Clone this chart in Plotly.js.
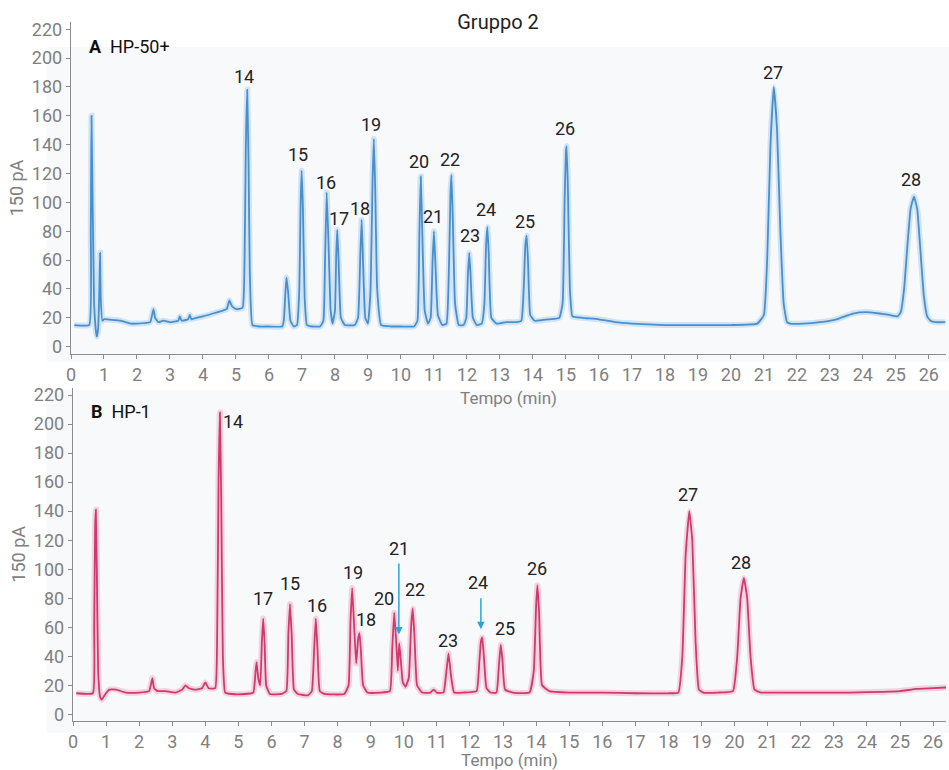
<!DOCTYPE html>
<html>
<head>
<meta charset="utf-8">
<script src="https://cdn.plot.ly/plotly-3.0.1.min.js"></script>
<style>html,body{margin:0;padding:0;background:#fff;}#chart{width:949px;height:770px;}</style>
</head>
<body>
<div id="chart"></div>
<script>
// ---- Panel A: HP-50+ (time in min, signal in pA) ----
const timeA = [0.1,0.55,0.6,0.62,0.65,0.7,0.75,0.78,0.82,0.86,0.88,0.9,0.95,1.0,1.5,1.8,2.0,2.4,2.45,2.5,2.55,2.65,2.8,3.0,3.25,3.3,3.35,3.55,3.6,3.65,3.8,4.0,4.3,4.6,4.72,4.8,4.88,5.0,5.2,5.26,5.3,5.34,5.38,5.42,5.5,5.7,6.0,6.4,6.45,6.5,6.53,6.58,6.65,6.75,6.85,6.92,6.96,6.99,7.03,7.08,7.15,7.3,7.55,7.65,7.7,7.75,7.8,7.87,7.93,8.0,8.04,8.07,8.11,8.18,8.3,8.6,8.7,8.77,8.81,8.85,8.92,9.0,9.08,9.14,9.18,9.22,9.28,9.4,9.7,10.0,10.4,10.5,10.56,10.6,10.64,10.72,10.82,10.9,10.96,11.0,11.04,11.12,11.25,11.38,11.46,11.5,11.53,11.57,11.64,11.75,11.9,11.98,12.03,12.07,12.11,12.18,12.3,12.45,12.53,12.58,12.62,12.66,12.74,12.9,13.2,13.5,13.65,13.72,13.77,13.81,13.85,13.92,14.05,14.5,14.8,14.9,14.96,15.0,15.02,15.06,15.12,15.2,15.5,16.0,16.5,17.0,18.0,19.0,20.0,20.8,21.0,21.1,21.2,21.3,21.4,21.5,21.6,21.7,21.8,22.2,22.7,23.2,23.7,24.1,24.5,24.8,25.05,25.15,25.25,25.35,25.45,25.55,25.65,25.75,25.85,25.95,26.05,26.2,26.5];
const signalA = [15,15,80,160,110,30,12,7,12,40,65,35,18,19,18,16,16,17,21,26,20,17,18,17,18,21,18,19,22,19,20,21,23,25,26,32,28,26,27,60,140,178,130,50,15,14,14,14,18,38,48,38,18,14,15,40,100,122,95,35,15,14,14,18,60,107,75,25,16,25,65,81,60,20,15,15,20,65,88,60,20,16,40,115,144,110,40,15,14,14,14,18,80,118,85,25,16,20,60,80,60,22,15,16,60,105,119,90,30,15,15,20,50,65,50,20,15,16,30,70,83,65,20,16,17,17,18,40,70,77,60,22,18,19,20,30,100,135,139,110,40,21,20,19,17,16,15,15,15,16,22,60,140,180,150,80,30,17,16,16,17,19,23,24,23,22,21,24,40,70,96,104,95,65,35,21,18,17,17];
const labelsA = ["14","15","16","17","18","19","20","21","22","23","24","25","26","27","28"];
const labelTimeA = [5.24,6.89,7.72,8.12,8.76,9.08,10.55,10.98,11.5,12.09,12.58,13.76,14.97,21.28,25.45];
const labelSignalA = [187,133,114,89,96,154,128,90,130,77,95,87,151,190,116];

// ---- Panel B: HP-1 ----
const timeB = [0.1,0.6,0.64,0.67,0.69,0.72,0.76,0.82,0.87,0.95,1.1,1.3,1.6,2.0,2.3,2.35,2.4,2.45,2.55,2.8,3.1,3.3,3.4,3.5,3.7,3.9,4.0,4.1,4.3,4.36,4.4,4.44,4.48,4.53,4.6,4.8,5.2,5.45,5.52,5.55,5.6,5.66,5.71,5.75,5.79,5.84,5.95,6.3,6.45,6.51,6.56,6.61,6.68,6.8,7.1,7.22,7.29,7.34,7.39,7.46,7.6,8.2,8.33,8.39,8.44,8.5,8.56,8.62,8.66,8.7,8.77,8.9,9.3,9.58,9.65,9.71,9.77,9.82,9.86,9.9,9.97,10.05,10.15,10.22,10.27,10.32,10.4,10.55,10.8,10.9,11.0,11.2,11.28,11.35,11.42,11.52,11.8,12.2,12.28,12.33,12.37,12.42,12.5,12.62,12.8,12.88,12.93,12.98,13.06,13.3,13.8,13.93,14.0,14.04,14.09,14.18,14.4,15.0,16.0,17.0,18.0,18.3,18.42,18.52,18.63,18.72,18.82,18.92,19.05,19.5,19.95,20.08,20.18,20.28,20.38,20.48,20.6,20.8,21.5,22.5,23.5,24.5,25.0,25.5,26.0,26.4];
const signalB = [14.5,14.5,60,130,141,100,30,12,10,13,17,17,15,15,16,20,25,18,16,16,15,17,20,18,17,18,22,18,18,60,160,208,150,40,15,14,14,15,30,36,25,20,50,66,50,20,14,14,16,55,76,55,17,14,13,16,45,66,45,16,14,14,20,65,87,60,35,52,56,45,20,15,15,16,45,70,50,30,49,40,22,19,25,60,73,55,20,15,15,17,15,15,28,42,28,15,15,16,35,50,53,40,18,15,15,35,48,38,17,15,15,30,75,89,70,20,16,15,15,14.5,14.5,15,40,110,140,120,50,17,15,15,16,40,80,94,80,40,17,15,15,15,15,15.5,16,17.5,18,18.5];
const labelsB = ["14","17","15","16","19","18","20","21","22","23","24","25","26","27","28"];
const labelTimeB = [4.84,5.75,6.56,7.37,8.47,8.87,9.41,9.86,10.34,11.35,12.23,13.06,14.04,18.58,20.18];
const labelSignalB = [201.6,80,90,75,98,65,80,114,86,51,91,59,100.6,151.6,104.5];
// marker arrows (peaks 21 and 24 in panel B)
const arrowTime = [9.85, 12.33];
const arrowFrom = [105, 81];
const arrowTo = [55, 58.6];

const FONT = 'Roboto, "Noto Sans", sans-serif';
const LINE_SHAPE = {shape: 'spline', smoothing: 0.35};
const traces = [
  {x: timeA, y: signalA, xaxis: 'x', yaxis: 'y', mode: 'lines', line: Object.assign({color: 'rgba(120,180,235,0.30)', width: 6}, LINE_SHAPE), hoverinfo: 'skip', showlegend: false},
  {x: timeA, y: signalA, xaxis: 'x', yaxis: 'y', mode: 'lines', line: Object.assign({color: '#4a8fcc', width: 1.8}, LINE_SHAPE), name: 'HP-50+', showlegend: false},
  {x: timeB, y: signalB, xaxis: 'x2', yaxis: 'y2', mode: 'lines', line: Object.assign({color: 'rgba(240,120,160,0.30)', width: 6}, LINE_SHAPE), hoverinfo: 'skip', showlegend: false},
  {x: timeB, y: signalB, xaxis: 'x2', yaxis: 'y2', mode: 'lines', line: Object.assign({color: '#cf3a6c', width: 1.8}, LINE_SHAPE), name: 'HP-1', showlegend: false}
];

function axisX(domain, range, anchor) {
  return {domain: domain, range: range, anchor: anchor, dtick: 1, tick0: 0,
    showline: true, linecolor: '#8c8c8c', linewidth: 1.2, ticks: 'outside', ticklen: 4, tickcolor: '#8c8c8c',
    showgrid: false, zeroline: false, tickfont: {family: FONT, size: 18, color: '#808080'},
    title: {text: 'Tempo (min)', font: {family: FONT, size: 17, color: '#808080'}, standoff: 8}};
}
function axisY(domain, range, anchor) {
  return {domain: domain, range: range, anchor: anchor, dtick: 20, tick0: 0,
    showline: true, linecolor: '#8c8c8c', linewidth: 1.2, ticks: 'outside', ticklen: 4, tickcolor: '#8c8c8c',
    showgrid: false, zeroline: false, tickfont: {family: FONT, size: 18, color: '#808080'},
    title: {text: '150 pA', font: {family: FONT, size: 18, color: '#808080'}, standoff: 3}};
}

const annotations = [];
labelsA.forEach((t, i) => annotations.push({x: labelTimeA[i], y: labelSignalA[i], xref: 'x', yref: 'y', text: t, showarrow: false,
  font: {family: FONT, size: 18, color: '#222'}}));
labelsB.forEach((t, i) => annotations.push({x: labelTimeB[i], y: labelSignalB[i], xref: 'x2', yref: 'y2', text: t, showarrow: false,
  font: {family: FONT, size: 18, color: '#222'}}));
arrowTime.forEach((t, i) => annotations.push({x: t, y: arrowTo[i], ax: t, ay: arrowFrom[i], xref: 'x2', yref: 'y2', axref: 'x2', ayref: 'y2',
  text: '', showarrow: true, arrowhead: 2, arrowsize: 1, arrowwidth: 1.5, arrowcolor: '#2aa3de'}));
annotations.push({xref: 'paper', yref: 'paper', x: 87/949, y: 1 - 46/770, xanchor: 'left', yanchor: 'middle', showarrow: false,
  text: '<b>A</b>  HP-50+', font: {family: FONT, size: 18, color: '#111'}});
annotations.push({xref: 'paper', yref: 'paper', x: 89/949, y: 1 - 411/770, xanchor: 'left', yanchor: 'middle', showarrow: false,
  text: '<b>B</b>  HP-1', font: {family: FONT, size: 18, color: '#111'}});

const layout = {
  width: 949, height: 770,
  margin: {l: 0, r: 0, t: 0, b: 0},
  paper_bgcolor: '#ffffff', plot_bgcolor: 'rgba(0,0,0,0)',
  title: {text: 'Gruppo 2', x: 498/949, xanchor: 'center', y: 1 - 22/770, yanchor: 'middle', yref: 'paper',
    font: {family: FONT, size: 20, color: '#222'}},
  xaxis: axisX([71/949, 946/949], [0, 26.52], 'y'),
  yaxis: axisY([(770-354)/770, (770-22)/770], [-5.06, 225], 'x'),
  xaxis2: axisX([73/949, 946/949], [0, 26.39], 'y2'),
  yaxis2: axisY([(770-720.7)/770, (770-388)/770], [-4.41, 224.9], 'x2'),
  annotations: annotations,
  shapes: [
    {type: 'rect', xref: 'paper', yref: 'paper', x0: 47/949, x1: 1, y0: 1 - 362/770, y1: 1 - 47/770, fillcolor: '#f8f9fb', line: {width: 0}, layer: 'below'},
    {type: 'rect', xref: 'paper', yref: 'paper', x0: 47/949, x1: 1, y0: 1 - 733/770, y1: 1 - 390/770, fillcolor: '#f8f9fb', line: {width: 0}, layer: 'below'}
  ],
  showlegend: false
};

Plotly.newPlot('chart', traces, layout, {displayModeBar: false, staticPlot: true});
</script>
</body>
</html>
